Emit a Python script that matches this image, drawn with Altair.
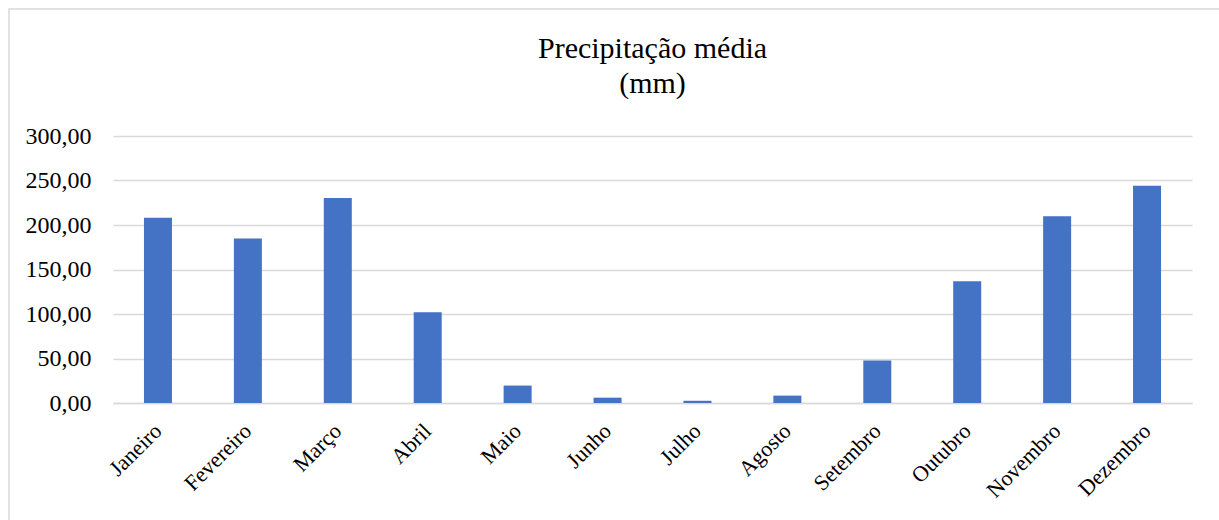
import altair as alt
import pandas as pd

meses = ["Janeiro", "Fevereiro", "Março", "Abril", "Maio", "Junho",
         "Julho", "Agosto", "Setembro", "Outubro", "Novembro", "Dezembro"]
precipitacao = [208.1, 184.9, 230.3, 102.0, 19.6, 6.0,
                2.5, 8.3, 47.7, 136.9, 209.7, 244.1]

df = pd.DataFrame({"mes": meses, "valor": precipitacao})

FONT = "Liberation Serif"

bars = alt.Chart(df).mark_bar(size=28, color="#4472C4").encode(
    x=alt.X("mes:N", sort=meses, title=None,
            axis=alt.Axis(labelAngle=-45, labelFont=FONT, labelFontSize=22,
                          labelColor="#000000", labelPadding=24, ticks=False,
                          domainColor="#d9d9d9", domainWidth=1.5,
                          labelAlign="right", labelBaseline="middle")),
    y=alt.Y("valor:Q", title=None,
            scale=alt.Scale(domain=[0, 300], nice=False),
            axis=alt.Axis(values=[0, 50, 100, 150, 200, 250, 300],
                          labelExpr="replace(format(datum.value, '.2f'), '.', ',')",
                          labelFont=FONT, labelFontSize=24, labelColor="#000000",
                          labelPadding=22, ticks=False, domain=False,
                          gridColor="#d9d9d9", gridWidth=1.5)),
)

frame = alt.Chart(pd.DataFrame({"k": [0]})).mark_rect(
    fill=None, stroke="#d9d9d9", strokeWidth=1.5
).encode(
    x=alt.value(-104), x2=alt.value(1300),
    y=alt.value(-127), y2=alt.value(700),
)

chart = alt.layer(frame, bars).properties(
    width=1079, height=267,
    title=alt.TitleParams(text=["Precipitação média", "(mm)"], font=FONT,
                          fontSize=30, fontWeight="normal", color="#000000",
                          anchor="middle", offset=-91, lineHeight=35),
    padding={"left": 113, "top": 136, "right": 27, "bottom": 117},
    autosize=alt.AutoSizeParams(type="none"),
    background="#ffffff",
).configure_view(stroke=None)

chart.save("out.html", embed_options={"renderer": "svg", "actions": False})
